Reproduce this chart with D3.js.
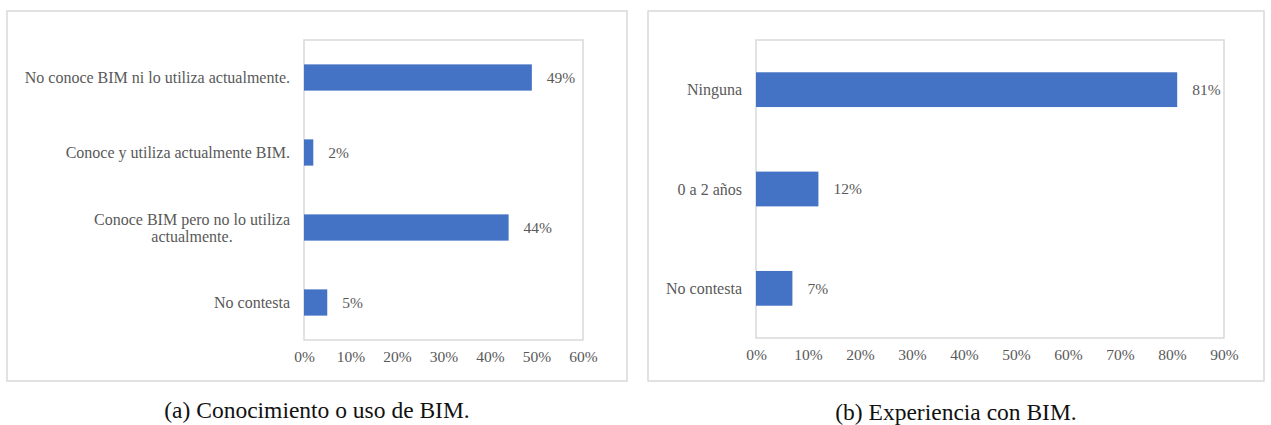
<!DOCTYPE html>
<html>
<head>
<meta charset="utf-8">
<script src="https://cdn.jsdelivr.net/npm/d3@7"></script>
<style>
  html, body { margin: 0; padding: 0; background: #fff; }
  svg { display: block; }
  text { font-family: "Liberation Serif", "Times New Roman", serif; }
</style>
</head>
<body>
<svg id="fig" width="1271" height="425"></svg>
<script>
// (a) Conocimiento o uso de BIM — categories listed top to bottom
const catsA = [
  ["No conoce BIM ni lo utiliza actualmente."],
  ["Conoce y utiliza actualmente BIM."],
  ["Conoce BIM pero no lo utiliza", "actualmente."],
  ["No contesta"]
];
const valsA = [0.49, 0.02, 0.44, 0.05];
const ticksA = [0, 0.1, 0.2, 0.3, 0.4, 0.5, 0.6];
const captionA = "(a) Conocimiento o uso de BIM.";

// (b) Experiencia con BIM
const catsB = [["Ninguna"], ["0 a 2 años"], ["No contesta"]];
const valsB = [0.81, 0.12, 0.07];
const ticksB = [0, 0.1, 0.2, 0.3, 0.4, 0.5, 0.6, 0.7, 0.8, 0.9];
const captionB = "(b) Experiencia con BIM.";

const svg = d3.select("#fig");
const pct = d3.format(".0%");
const BAR = "#4472c4", GRID = "#d9d9d9", INK = "#595959";
const FS_CAT = 16, FS_TICK = 15.5, FS_VAL = 15.5, FS_CAP = 23.5;

function panel(o) {
  const g = svg.append("g");
  // chart frame
  g.append("rect").attr("x", o.box[0]).attr("y", o.box[1])
    .attr("width", o.box[2]).attr("height", o.box[3])
    .attr("fill", "#fff").attr("stroke", GRID).attr("stroke-width", 1.5);

  const x = d3.scaleLinear().domain([0, o.max]).range([o.plot[0], o.plot[1]]);
  const idx = o.cats.map((_, i) => i);
  const y = d3.scaleBand().domain(idx).range([o.plot[2], o.plot[3]])
    .paddingInner(0.65).paddingOuter(0.325);

  // plot area border
  g.append("rect").attr("x", o.plot[0]).attr("y", o.plot[2])
    .attr("width", o.plot[1] - o.plot[0]).attr("height", o.plot[3] - o.plot[2])
    .attr("fill", "none").attr("stroke", GRID).attr("stroke-width", 1.5);

  // bars
  g.selectAll("rect.bar").data(o.vals).join("rect").attr("class", "bar")
    .attr("x", x(0)).attr("y", (d, i) => y(i))
    .attr("width", d => x(d) - x(0)).attr("height", y.bandwidth())
    .attr("fill", BAR);

  // value labels
  g.selectAll("text.val").data(o.vals).join("text").attr("class", "val")
    .attr("x", d => x(d) + 15).attr("y", (d, i) => y(i) + y.bandwidth() / 2)
    .attr("dy", "0.35em").attr("font-size", FS_VAL).attr("fill", INK)
    .text(d => pct(d));

  // x axis labels (no line, no tick marks)
  const ax = g.append("g").attr("transform", `translate(0,${o.plot[3]})`)
    .call(d3.axisBottom(x).tickValues(o.ticks).tickFormat(pct).tickSize(0).tickPadding(11));
  ax.select(".domain").remove();
  ax.selectAll("text").attr("font-size", FS_TICK).attr("fill", INK)
    .attr("font-family", "\"Liberation Serif\", \"Times New Roman\", serif");

  // category labels, right-aligned; wrapped lines centred on each other
  const right = o.plot[0] - 14;
  o.cats.forEach((lines, i) => {
    const cy = y(i) + y.bandwidth() / 2;
    const t = g.append("text").attr("font-size", FS_CAT).attr("fill", INK);
    const lh = 17;
    const spans = lines.map((s, k) => t.append("tspan").text(s)
      .attr("y", cy + (k - (lines.length - 1) / 2) * lh).attr("dy", "0.35em"));
    const widths = spans.map(s => s.node().getComputedTextLength());
    const w = d3.max(widths);
    spans.forEach(s => s.attr("x", right - w / 2).attr("text-anchor", "middle"));
  });

  // caption, centred under the frame
  svg.append("text").attr("x", o.box[0] + o.box[2] / 2).attr("y", o.capY)
    .attr("text-anchor", "middle").attr("font-size", FS_CAP).attr("fill", "#111")
    .text(o.caption);
}

panel({
  box: [7, 11, 620, 370], plot: [304, 583, 40, 340], max: 0.6,
  cats: catsA, vals: valsA, ticks: ticksA,
  caption: captionA, capY: 418
});
panel({
  box: [648, 11, 616, 370], plot: [756, 1224, 40, 338], max: 0.9,
  cats: catsB, vals: valsB, ticks: ticksB,
  caption: captionB, capY: 419.5
});
</script>
</body>
</html>
